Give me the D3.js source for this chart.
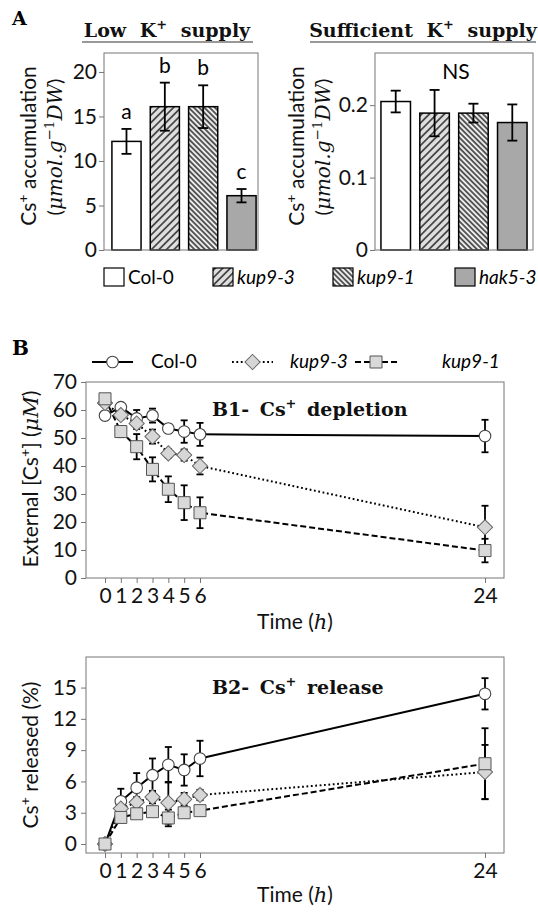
<!DOCTYPE html>
<html>
<head>
<meta charset="utf-8">
<script src="https://cdn.jsdelivr.net/npm/d3@7"></script>
<style>
body{margin:0;background:#fff}
text{white-space:pre}
</style>
</head>
<body>
<script>
// ---- panel A: Cs accumulation ----
const genotypes = ["Col-0", "kup9-3", "kup9-1", "hak5-3"];
const lowKMean = [12.2, 16.1, 16.1, 6.1];
const lowKErr = [1.4, 2.7, 2.4, 0.75];
const lowKLetters = ["a", "b", "b", "c"];
const lowKTicks = [0, 5, 10, 15, 20];
const suffKMean = [0.205, 0.189, 0.189, 0.176];
const suffKErr = [0.015, 0.032, 0.013, 0.025];
const suffKTicks = [0, 0.1, 0.2];

// ---- panel B: time courses ----
const times = [0, 1, 2, 3, 4, 5, 6, 24];
const lineNames = ["Col-0", "kup9-3", "kup9-1"];
const col0Dep = [58, 61, 57, 58, 53.4, 52.3, 51.3, 50.7];
const col0DepErr = [1.5, 1.5, 3, 2.5, 1.5, 4, 4.1, 5.8];
const kup93Dep = [62.5, 58.2, 55.2, 50.5, 44.5, 43.9, 40, 18.1];
const kup93DepErr = [1, 1.5, 2, 2.5, 1.5, 2, 3, 7.7];
const kup91Dep = [64, 52.3, 46.9, 38.8, 31.7, 26.9, 23.3, 9.8];
const kup91DepErr = [1, 2, 4.5, 4.3, 4.6, 6.2, 5.5, 4.2];
const col0Rel = [0, 4.1, 5.4, 6.6, 7.6, 7.1, 8.2, 14.4];
const col0RelErr = [0.2, 1.2, 1.4, 1.6, 1.7, 1.5, 1.7, 1.5];
const kup93Rel = [0, 3.4, 4.0, 4.5, 3.95, 4.3, 4.7, 6.9];
const kup93RelErr = [0.2, 0.5, 0.5, 0.6, 2, 0.6, 0.5, 2.6];
const kup91Rel = [0, 2.55, 2.9, 3.1, 2.5, 3.0, 3.2, 7.7];
const kup91RelErr = [0.2, 0.4, 0.4, 0.4, 0.8, 0.4, 0.4, 3.4];
const depTicks = [0, 10, 20, 30, 40, 50, 60, 70];
const relTicks = [0, 3, 6, 9, 12, 15];

const sans = "Lato, 'Open Sans', sans-serif";
const serif = "'DejaVu Serif', serif";
const frameCol = "#777";
const fs = 21;

const svg = d3.select("body").append("svg")
    .attr("width", 538).attr("height", 913)
    .style("background", "#fff");

const defs = svg.append("defs");
function hatch(id, gap, angle, bg) {
  const p = defs.append("pattern").attr("id", id)
      .attr("patternUnits", "userSpaceOnUse")
      .attr("width", gap).attr("height", gap)
      .attr("patternTransform", `rotate(${angle})`);
  p.append("rect").attr("width", gap).attr("height", gap).attr("fill", bg);
  p.append("line").attr("x1", gap / 2).attr("x2", gap / 2)
      .attr("y1", 0).attr("y2", gap)
      .attr("stroke", "#000").attr("stroke-width", 1.2);
}
hatch("hatchA", 5.3, 45, "#dedede");
hatch("hatchB", 3.7, -45, "#ececec");
const barFills = ["#fff", "url(#hatchA)", "url(#hatchB)", "#a8a8a8"];

// text made of pieces: n normal, i italic serif, u upright sans, s superscript
function richText(sel, parts, size, family) {
  const t = sel.append("text").attr("font-size", size).attr("font-family", family).attr("fill", "#111");
  let shift = 0;
  parts.forEach(([str, st]) => {
    const ts = t.append("tspan").text(str);
    if (st === "s") {
      ts.attr("dy", -size * 0.4 - shift).attr("font-size", size * 0.68);
      shift = -size * 0.4;
    } else {
      ts.attr("dy", -shift);
      shift = 0;
      if (st === "i") ts.attr("font-family", serif).attr("font-style", "italic");
      if (st === "u") ts.attr("font-family", sans).attr("font-style", "normal");
    }
  });
  return t;
}

function styleAxis(g) {
  g.select(".domain").remove();
  g.selectAll(".tick line").attr("stroke", frameCol);
  g.selectAll(".tick text").attr("font-size", fs).attr("font-family", sans).attr("fill", "#111");
}

// ---------- panel A ----------
svg.append("text").attr("x", 12).attr("y", 25).text("A")
    .attr("font-family", serif).attr("font-weight", "bold").attr("font-size", 19);

function barPanel(o) {
  const x = d3.scaleBand().domain(genotypes).range(o.band)
      .paddingInner(0.24).paddingOuter(0.05);
  const y = d3.scaleLinear().domain([0, o.yMax]).range([250, 53]);
  const g = svg.append("g");

  g.append("g").attr("transform", `translate(${o.x0},0)`)
      .call(d3.axisLeft(y).tickValues(o.ticks).tickSize(5).tickPadding(2).tickFormat(d3.format("~g")))
      .call(styleAxis);

  g.selectAll(".bar").data(o.mean).join("rect")
      .attr("x", (d, i) => x(genotypes[i]))
      .attr("y", d => y(d))
      .attr("width", x.bandwidth())
      .attr("height", d => y(0) - y(d))
      .attr("fill", (d, i) => barFills[i])
      .attr("stroke", "#000").attr("stroke-width", 1.5);

  const cx = i => x(genotypes[i]) + x.bandwidth() / 2;
  const eb = g.append("g").attr("stroke", "#000").attr("stroke-width", 1.8);
  o.mean.forEach((m, i) => {
    const e = o.err[i];
    eb.append("line").attr("x1", cx(i)).attr("x2", cx(i)).attr("y1", y(m + e)).attr("y2", y(m - e));
    [m + e, m - e].forEach(v => eb.append("line").attr("x1", cx(i) - 5).attr("x2", cx(i) + 5)
        .attr("y1", y(v)).attr("y2", y(v)));
  });

  if (o.letters) {
    g.selectAll(".let").data(o.letters).join("text")
        .attr("x", (d, i) => cx(i))
        .attr("y", (d, i) => y(o.mean[i] + o.err[i]) - 10)
        .attr("text-anchor", "middle").attr("font-size", fs).attr("font-family", sans)
        .text(d => d);
  }
  if (o.ns) {
    g.append("text").attr("x", (o.x0 + o.x1) / 2 + 2).attr("y", 79).attr("text-anchor", "middle")
        .attr("font-size", fs).attr("font-family", sans).text(o.ns);
  }

  g.append("rect").attr("x", o.x0).attr("y", 53).attr("width", o.x1 - o.x0).attr("height", 197)
      .attr("fill", "none").attr("stroke", frameCol);

  richText(g, o.title, 19, serif).attr("font-weight", "bold")
      .attr("x", o.titleX).attr("y", 37).attr("text-anchor", "middle").attr("word-spacing", 7);
  g.append("line").attr("x1", o.ul[0]).attr("x2", o.ul[1]).attr("y1", 42).attr("y2", 42)
      .attr("stroke", "#333").attr("stroke-width", 1.2);

  richText(g, [["Cs", "n"], ["+", "s"], [" accumulation", "n"]], fs, sans)
      .attr("text-anchor", "middle")
      .attr("transform", `translate(${o.labelX},146) rotate(-90)`);
  richText(g, [["(", "u"], ["μmol.g", "i"], ["−1", "s"], ["DW", "i"], [")", "u"]], 20, serif)
      .attr("text-anchor", "middle")
      .attr("transform", `translate(${o.labelX + 26},147) rotate(-90)`);
}

barPanel({x0: 104, x1: 258, band: [110, 258], yMax: 22.13, ticks: lowKTicks,
  mean: lowKMean, err: lowKErr, letters: lowKLetters,
  title: [["Low K", "n"], ["+", "s"], [" supply", "n"]], titleX: 167, ul: [82, 253], labelX: 36});
barPanel({x0: 375, x1: 533, band: [379, 529], yMax: 0.272, ticks: suffKTicks,
  mean: suffKMean, err: suffKErr, ns: "NS",
  title: [["Sufficient K", "n"], ["+", "s"], [" supply", "n"]], titleX: 423, ul: [310, 536], labelX: 304});

// legend A
const legA = [104, 213, 333, 455];
genotypes.forEach((name, i) => {
  svg.append("rect").attr("x", legA[i]).attr("y", 268).attr("width", 20).attr("height", 18)
      .attr("fill", barFills[i]).attr("stroke", "#000").attr("stroke-width", 1.2);
  svg.append("text").attr("x", legA[i] + 24).attr("y", 284).text(name)
      .attr("font-size", 19).attr("font-family", sans)
      .attr("font-style", i === 0 ? "normal" : "italic");
});

// ---------- panel B ----------
svg.append("text").attr("x", 12).attr("y", 355).text("B")
    .attr("font-family", serif).attr("font-weight", "bold").attr("font-size", 20);

const x = d3.scaleLinear().domain([-1.2, 25.2]).range([86, 504]);
const dashes = [null, "1.8,2.6", "6,3"];

function marker(g, k, px, py) {
  if (k === 0) {
    g.append("circle").attr("cx", px).attr("cy", py).attr("r", 5.8)
        .attr("fill", "#fff").attr("stroke", "#444").attr("stroke-width", 1.1);
  } else if (k === 1) {
    g.append("path").attr("d", d3.symbol(d3.symbolSquare, 115)())
        .attr("transform", `translate(${px},${py}) rotate(45)`)
        .attr("fill", "#d6d6d6").attr("stroke", "#666").attr("stroke-width", 1);
  } else {
    g.append("path").attr("d", d3.symbol(d3.symbolSquare, 144)())
        .attr("transform", `translate(${px},${py})`)
        .attr("fill", "#d9d9d9").attr("stroke", "#555").attr("stroke-width", 1);
  }
}

function timePanel(o) {
  const y = d3.scaleLinear().domain(o.yDomain).range([o.bottom, o.top]);
  const g = svg.append("g");

  g.append("g").attr("transform", `translate(86,0)`)
      .call(d3.axisLeft(y).tickValues(o.ticks).tickSize(5).tickPadding(4))
      .call(styleAxis);
  g.append("g").attr("transform", `translate(0,${o.bottom})`)
      .call(d3.axisBottom(x).tickValues(times).tickSize(5).tickPadding(o.pad))
      .call(styleAxis);

  g.append("rect").attr("x", 86).attr("y", o.top).attr("width", 418).attr("height", o.bottom - o.top)
      .attr("fill", "none").attr("stroke", frameCol);

  richText(g, o.title, 19, serif).attr("font-weight", "bold")
      .attr("x", 212).attr("y", o.titleY).attr("word-spacing", 4);

  const line = d3.line().x(d => x(d[0])).y(d => y(d[1]));
  o.series.forEach((s, k) => {
    g.append("path").datum(d3.zip(times, s))
        .attr("d", line).attr("fill", "none").attr("stroke", "#000")
        .attr("stroke-width", 2).attr("stroke-dasharray", dashes[k]);
  });
  const eb = g.append("g").attr("stroke", "#000").attr("stroke-width", 1.8);
  o.series.forEach((s, k) => {
    s.forEach((v, i) => {
      const e = o.errs[k][i], px = x(times[i]);
      if (e < 0.5 && o.small) return;
      eb.append("line").attr("x1", px).attr("x2", px).attr("y1", y(v + e)).attr("y2", y(v - e));
      [v + e, v - e].forEach(w => eb.append("line").attr("x1", px - 3.5).attr("x2", px + 3.5)
          .attr("y1", y(w)).attr("y2", y(w)));
    });
  });
  o.series.forEach((s, k) => s.forEach((v, i) => marker(g, k, x(times[i]), y(v))));

  richText(g, o.yLabel, fs, sans).attr("text-anchor", "middle")
      .attr("transform", `translate(38,${o.labelY}) rotate(-90)`);
  richText(g, [["Time (", "n"], ["h", "i"], [")", "u"]], fs, sans)
      .attr("text-anchor", "middle").attr("x", 295).attr("y", o.timeY);
}

timePanel({top: 382, bottom: 578, yDomain: [0, 70], ticks: depTicks, pad: 5,
  series: [col0Dep, kup93Dep, kup91Dep], errs: [col0DepErr, kup93DepErr, kup91DepErr],
  title: [["B1- Cs", "n"], ["+", "s"], [" depletion", "n"]], titleY: 416,
  yLabel: [["External [Cs", "n"], ["+", "s"], ["] (", "n"], ["μM", "i"], [")", "u"]], labelY: 479, timeY: 629});
timePanel({top: 657, bottom: 853, yDomain: [-0.86, 17.93], ticks: relTicks, pad: 5, small: true,
  series: [col0Rel, kup93Rel, kup91Rel], errs: [col0RelErr, kup93RelErr, kup91RelErr],
  title: [["B2- Cs", "n"], ["+", "s"], [" release", "n"]], titleY: 694,
  yLabel: [["Cs", "n"], ["+", "s"], [" released (%)", "n"]], labelY: 755, timeY: 902});

// legend B
const legB = [[92, 133, 151], [232, 273, 290], [355, 397, 442]];
lineNames.forEach((name, k) => {
  const [a, b, t] = legB[k];
  svg.append("line").attr("x1", a).attr("x2", b).attr("y1", 362).attr("y2", 362)
      .attr("stroke", "#000").attr("stroke-width", 2).attr("stroke-dasharray", dashes[k]);
  marker(svg, k, (a + b) / 2, 362);
  svg.append("text").attr("x", t).attr("y", 368).text(name)
      .attr("font-size", 19).attr("font-family", sans)
      .attr("font-style", k === 0 ? "normal" : "italic");
});
</script>
</body>
</html>
